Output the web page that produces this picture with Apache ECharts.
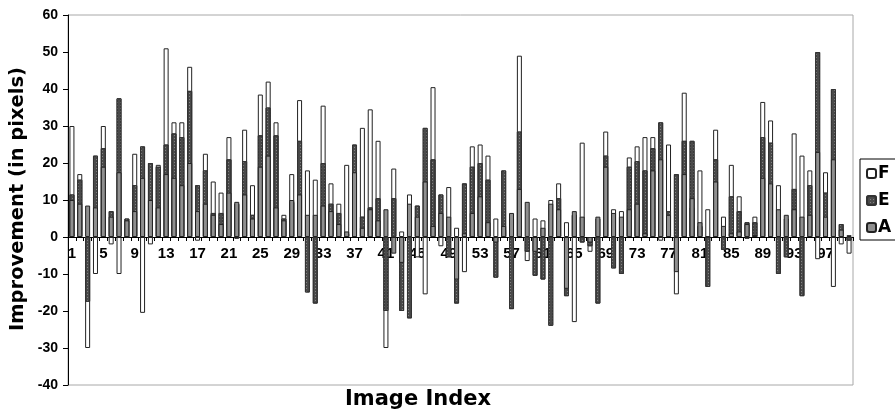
<!DOCTYPE html>
<html>
<head>
<meta charset="utf-8">
<script src="https://cdn.jsdelivr.net/npm/echarts@6/dist/echarts.min.js"></script>
<style>
  html, body { margin: 0; padding: 0; background: #fff; }
  #main { width: 895px; height: 415px; }
</style>
</head>
<body>
<div id="main"></div>
<script>
// image index 1..100
var categories = Array.from({length: 100}, function (_, i) { return String(i + 1); });

// improvement (in pixels) per image
var seriesF = [
  30, 17, -30, -10, 30, -2, -10, 0, 22.5, -20.5,
  -2, 19.5, 51, 31, 31, 46, -1, 22.5, 15, 12,
  27, -0.5, 29, 14, 38.5, 42, 31, 6, 17, 37,
  18, 15.5, 35.5, 14.5, 9, 19.5, 17, 29.5, 34.5, 26,
  -30, 18.5, 1.5, 11.5, -5.5, -15.5, 40.5, -2.5, 13.5, 2.5,
  -9.5, 24.5, 25, 22, 5, 2, 5, 49, -6.5, 5,
  4.5, 10, 14.5, 4, -23, 25.5, -4, 5, 28.5, 7.5,
  7, 21.5, 24.5, 27, 27, -1, 25, -15.5, 39, 8,
  18, 7.5, 29, 5.5, 19.5, 11, -0.5, 5.5, 36.5, 31.5,
  14, 5, 28, 22, 18, -6, 17.5, -13.5, -2, -4.5
];
var seriesE = [
  11.5, 15.5, -17.5, 22, 24, 7, 37.5, 5, 14, 24.5,
  20, 19, 25, 28, 27, 39.5, 14, 18, 6.5, 6.5,
  21, 9, 20.5, 6, 27.5, 35, 27.5, 5, 9.5, 26,
  -15, -18, 20, 9, 6.5, 1, 25, 5.5, 8, 10.5,
  -20, 10.5, -20, -22, 8.5, 29.5, 21, 11.5, -5.5, -18,
  14.5, 19, 20, 15.5, -11, 18, -19.5, 28.5, -4, -10.5,
  -11.5, -24, 10.5, -16, 6, -1.5, -2.5, -18, 22, -8.5,
  -10, 19, 20.5, 18, 24, 31, 7, 17, 26, 26,
  3, -13.5, 21, -3.5, 11, 7, 4, 4, 27, 25.5,
  -10, -5.5, 13, -16, 14, 50, 12, 40, 3.5, -1
];
var seriesA = [
  10, 9, 8.5, 8, 19, 5.5, 17.5, 4.5, 7, 16,
  10, 8, 17, 16, 14, 20, 7, 9, 6, 3.5,
  12, 9.5, 11.5, 5, 19, 22, 8, 4.5, 10, 11.5,
  6, 6, 8.5, 7, 3.5, 1.5, 17.5, 2.5, 7.5, 4.5,
  7.5, -4.5, -7, 9, 5.5, 15, 3, 6.5, 5.5, -11.5,
  1, 6.5, 11, 4, -1.5, 3, 6.5, 13, 9.5, -4,
  2.5, 9, 7.5, -14, 7, 5.5, -1.5, 5.5, 19, 6.5,
  5.5, 7.5, 9, 1, 18, 21, 6, -9.5, 17, 10.5,
  4, 0, 15, 3, 1, 1.5, 3.5, 0.5, 16, 14.5,
  7.5, 6, 7.5, 5.5, 6, 23, 5.5, 21, 2, 0.5
];

var yMin = -40;
var yMax = 60;
var yStep = 10;

var gridTop = 15;
var gridBottom = 30;
var plotHeight = 415 - gridTop - gridBottom;
// the category axis sits on the zero line, its labels under it
var zeroOffset = -plotHeight * (0 - yMin) / (yMax - yMin);

var labelFont = "'Liberation Sans Narrow', 'Liberation Sans', Arial, sans-serif";
var titleFont = "'DejaVu Sans', Verdana, sans-serif";

var myChart = echarts.init(document.getElementById('main'));

var option = {
    animation: false,
    backgroundColor: '#fff',
    grid: {
        left: 68,
        right: 42,
        top: gridTop,
        bottom: gridBottom,
        show: true,
        borderColor: '#a8a8a8',
        borderWidth: 1
    },
    legend: {
        orient: 'vertical',
        left: 860,
        top: 159,
        padding: [6, 12, 4, 6],
        itemWidth: 9,
        itemHeight: 9,
        itemGap: 10,
        borderColor: '#000',
        borderWidth: 1,
        textStyle: {
            fontFamily: titleFont,
            fontWeight: 'bold',
            fontSize: 17,
            color: '#000',
            padding: [0, 0, 0, -3]
        },
        data: ['F', 'E', 'A']
    },
    xAxis: {
        type: 'category',
        data: categories,
        position: 'bottom',
        offset: zeroOffset,
        axisLine: { onZero: false, lineStyle: { color: '#000', width: 1 } },
        axisTick: { show: true, inside: false, length: 4, interval: 0, lineStyle: { color: '#000' } },
        axisLabel: {
            interval: 3,
            margin: 9,
            fontFamily: labelFont,
            fontWeight: 'bold',
            fontSize: 15,
            color: '#000'
        },
        splitLine: { show: false }
    },
    yAxis: {
        type: 'value',
        min: yMin,
        max: yMax,
        interval: yStep,
        axisLine: { show: true, lineStyle: { color: '#000', width: 1 } },
        axisTick: { show: true, length: 5, lineStyle: { color: '#000' } },
        axisLabel: {
            margin: 10,
            fontFamily: labelFont,
            fontWeight: 'bold',
            fontSize: 14,
            color: '#000'
        },
        splitLine: { show: false }
    },
    graphic: [
        {
            type: 'text',
            x: 18,
            y: 199,
            rotation: Math.PI / 2,
            style: {
                text: 'Improvement (in pixels)',
                font: 'bold 19.5px ' + titleFont,
                fill: '#000',
                align: 'center',
                verticalAlign: 'middle'
            }
        },
        {
            type: 'text',
            x: 418,
            y: 400,
            style: {
                text: 'Image Index',
                font: 'bold 21px ' + titleFont,
                fill: '#000',
                align: 'center',
                verticalAlign: 'middle'
            }
        }
    ],
    series: [
        {
            name: 'F',
            type: 'bar',
            barWidth: 5,
            barGap: '-100%',
            itemStyle: { color: '#ffffff', borderColor: '#222', borderWidth: 1 },
            data: seriesF
        },
        {
            name: 'E',
            type: 'bar',
            barWidth: 5,
            barGap: '-100%',
            itemStyle: {
                color: '#4a4a4a',
                borderColor: '#333',
                borderWidth: 1,
                decal: {
                    symbol: 'rect',
                    symbolSize: 1,
                    color: 'rgba(200,200,200,0.45)',
                    dashArrayX: [1, 2],
                    dashArrayY: [1, 2],
                    rotation: 0
                }
            },
            data: seriesE
        },
        {
            name: 'A',
            type: 'bar',
            barWidth: 5,
            barGap: '-100%',
            itemStyle: { color: '#8f8f8f', borderColor: '#222', borderWidth: 1 },
            data: seriesA
        }
    ]
};

myChart.setOption(option);
</script>
</body>
</html>
